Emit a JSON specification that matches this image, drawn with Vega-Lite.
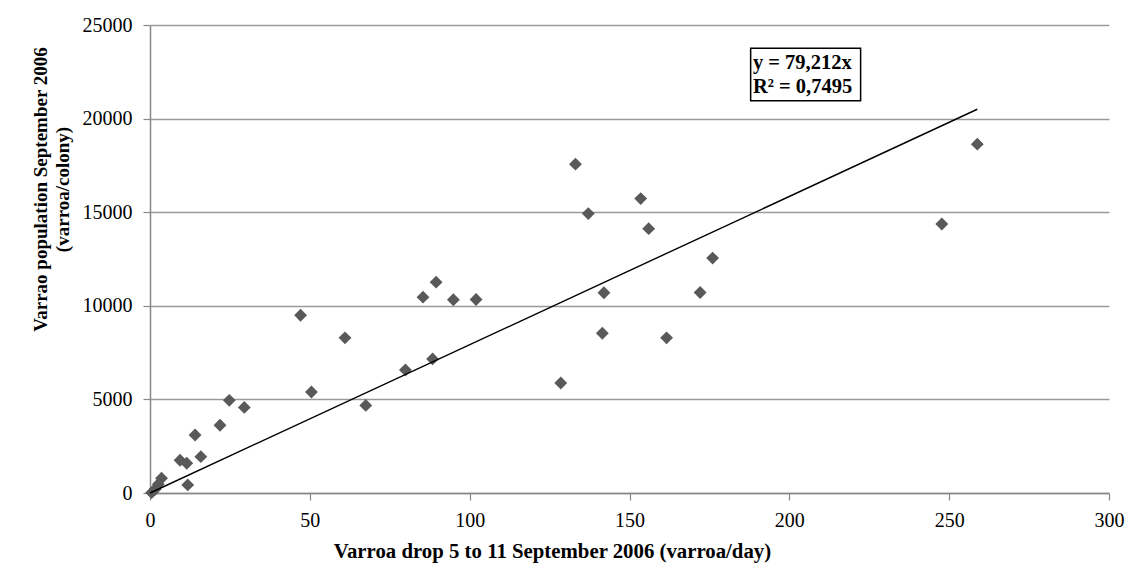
{
  "$schema": "https://vega.github.io/schema/vega-lite/v6.json",
  "width": 959,
  "height": 468,
  "autosize": "none",
  "padding": {"left": 150, "top": 25, "right": 30, "bottom": 82},
  "background": "white",
  "config": {
    "view": {"stroke": null},
    "font": "Liberation Serif"
  },
  "datasets": {
    "pts": [
      {"drop": 0.5, "pop": 20},
      {"drop": 1.6, "pop": 200},
      {"drop": 2.6, "pop": 470},
      {"drop": 3.6, "pop": 790},
      {"drop": 11.8, "pop": 430},
      {"drop": 9.4, "pop": 1750},
      {"drop": 11.5, "pop": 1590},
      {"drop": 15.9, "pop": 1940},
      {"drop": 14.1, "pop": 3100},
      {"drop": 21.9, "pop": 3620},
      {"drop": 24.8, "pop": 4950},
      {"drop": 29.5, "pop": 4570},
      {"drop": 47.1, "pop": 9497},
      {"drop": 50.5, "pop": 5396},
      {"drop": 61.0, "pop": 8287},
      {"drop": 67.5, "pop": 4679},
      {"drop": 79.9, "pop": 6574},
      {"drop": 85.4, "pop": 10460},
      {"drop": 88.4, "pop": 7163},
      {"drop": 89.5, "pop": 11263},
      {"drop": 94.9, "pop": 10321},
      {"drop": 102.0, "pop": 10337},
      {"drop": 128.5, "pop": 5878},
      {"drop": 133.1, "pop": 17564},
      {"drop": 137.1, "pop": 14925},
      {"drop": 141.5, "pop": 8533},
      {"drop": 142.0, "pop": 10696},
      {"drop": 153.5, "pop": 15728},
      {"drop": 156.0, "pop": 14122},
      {"drop": 161.6, "pop": 8287},
      {"drop": 172.1, "pop": 10712},
      {"drop": 176.0, "pop": 12548},
      {"drop": 247.7, "pop": 14368},
      {"drop": 258.8, "pop": 18635}
    ],
    "fit": [
      {"drop": 0, "pop": 0},
      {"drop": 258.8, "pop": 20500}
    ],
    "box": [
      {"x1": 187.9, "x2": 222.3, "y1": 20953, "y2": 23758}
    ],
    "boxtext": [
      {"label": "y = 79,212x", "tx": 188.6, "ty": 22955},
      {"label": "R² = 0,7495", "tx": 188.6, "ty": 21670}
    ]
  },
  "layer": [
    {
      "data": {"name": "pts"},
      "mark": {"type": "point", "shape": "diamond", "filled": true, "color": "#595959", "opacity": 1, "size": 165},
      "encoding": {
        "x": {
          "field": "drop", "type": "quantitative",
          "scale": {"domain": [0, 300], "nice": false, "zero": false},
          "axis": {
            "title": "Varroa drop 5 to 11 September 2006 (varroa/day)",
            "values": [0, 50, 100, 150, 200, 250, 300],
            "grid": false,
            "domainColor": "#888888", "domainWidth": 1.5,
            "tickColor": "#888888", "tickSize": 7, "tickWidth": 1.2,
            "labelFont": "Liberation Serif", "labelFontSize": 20, "labelColor": "#000000",
            "labelPadding": 10, "labelFlush": false,
            "titleFont": "Liberation Serif", "titleFontSize": 20.8, "titleFontWeight": "bold", "titleColor": "#000000",
            "titleX": 402, "titleY": 64, "titleBaseline": "alphabetic", "titleAnchor": "middle"
          }
        },
        "y": {
          "field": "pop", "type": "quantitative",
          "scale": {"domain": [0, 25000], "nice": false},
          "axis": {
            "title": ["Varrao population September 2006", "(varroa/colony)"],
            "values": [0, 5000, 10000, 15000, 20000, 25000],
            "format": "d",
            "grid": true, "gridColor": "#9a9a9a", "gridWidth": 1.3,
            "domainColor": "#888888", "domainWidth": 1.5,
            "tickColor": "#888888", "tickSize": 7, "tickWidth": 1.2,
            "labelFont": "Liberation Serif", "labelFontSize": 20, "labelColor": "#000000",
            "labelPadding": 11,
            "titleFont": "Liberation Serif", "titleFontSize": 19, "titleFontWeight": "bold", "titleColor": "#000000",
            "titleAngle": -90, "titleX": -100, "titleY": 164, "titleBaseline": "bottom", "titleAlign": "center", "titleLineHeight": 22
          }
        }
      }
    },
    {
      "data": {"name": "fit"},
      "mark": {"type": "line", "color": "#000000", "strokeWidth": 1.4},
      "encoding": {
        "x": {"field": "drop", "type": "quantitative"},
        "y": {"field": "pop", "type": "quantitative"}
      }
    },
    {
      "data": {"name": "box"},
      "mark": {"type": "rect", "fill": "white", "stroke": "#000000", "strokeWidth": 1.5},
      "encoding": {
        "x": {"field": "x1", "type": "quantitative"},
        "x2": {"field": "x2"},
        "y": {"field": "y1", "type": "quantitative"},
        "y2": {"field": "y2"}
      }
    },
    {
      "data": {"name": "boxtext"},
      "mark": {"type": "text", "align": "left", "baseline": "middle", "font": "Liberation Serif", "fontSize": 20.5, "fontWeight": "bold", "color": "#000000"},
      "encoding": {
        "x": {"field": "tx", "type": "quantitative"},
        "y": {"field": "ty", "type": "quantitative"},
        "text": {"field": "label"}
      }
    }
  ]
}
